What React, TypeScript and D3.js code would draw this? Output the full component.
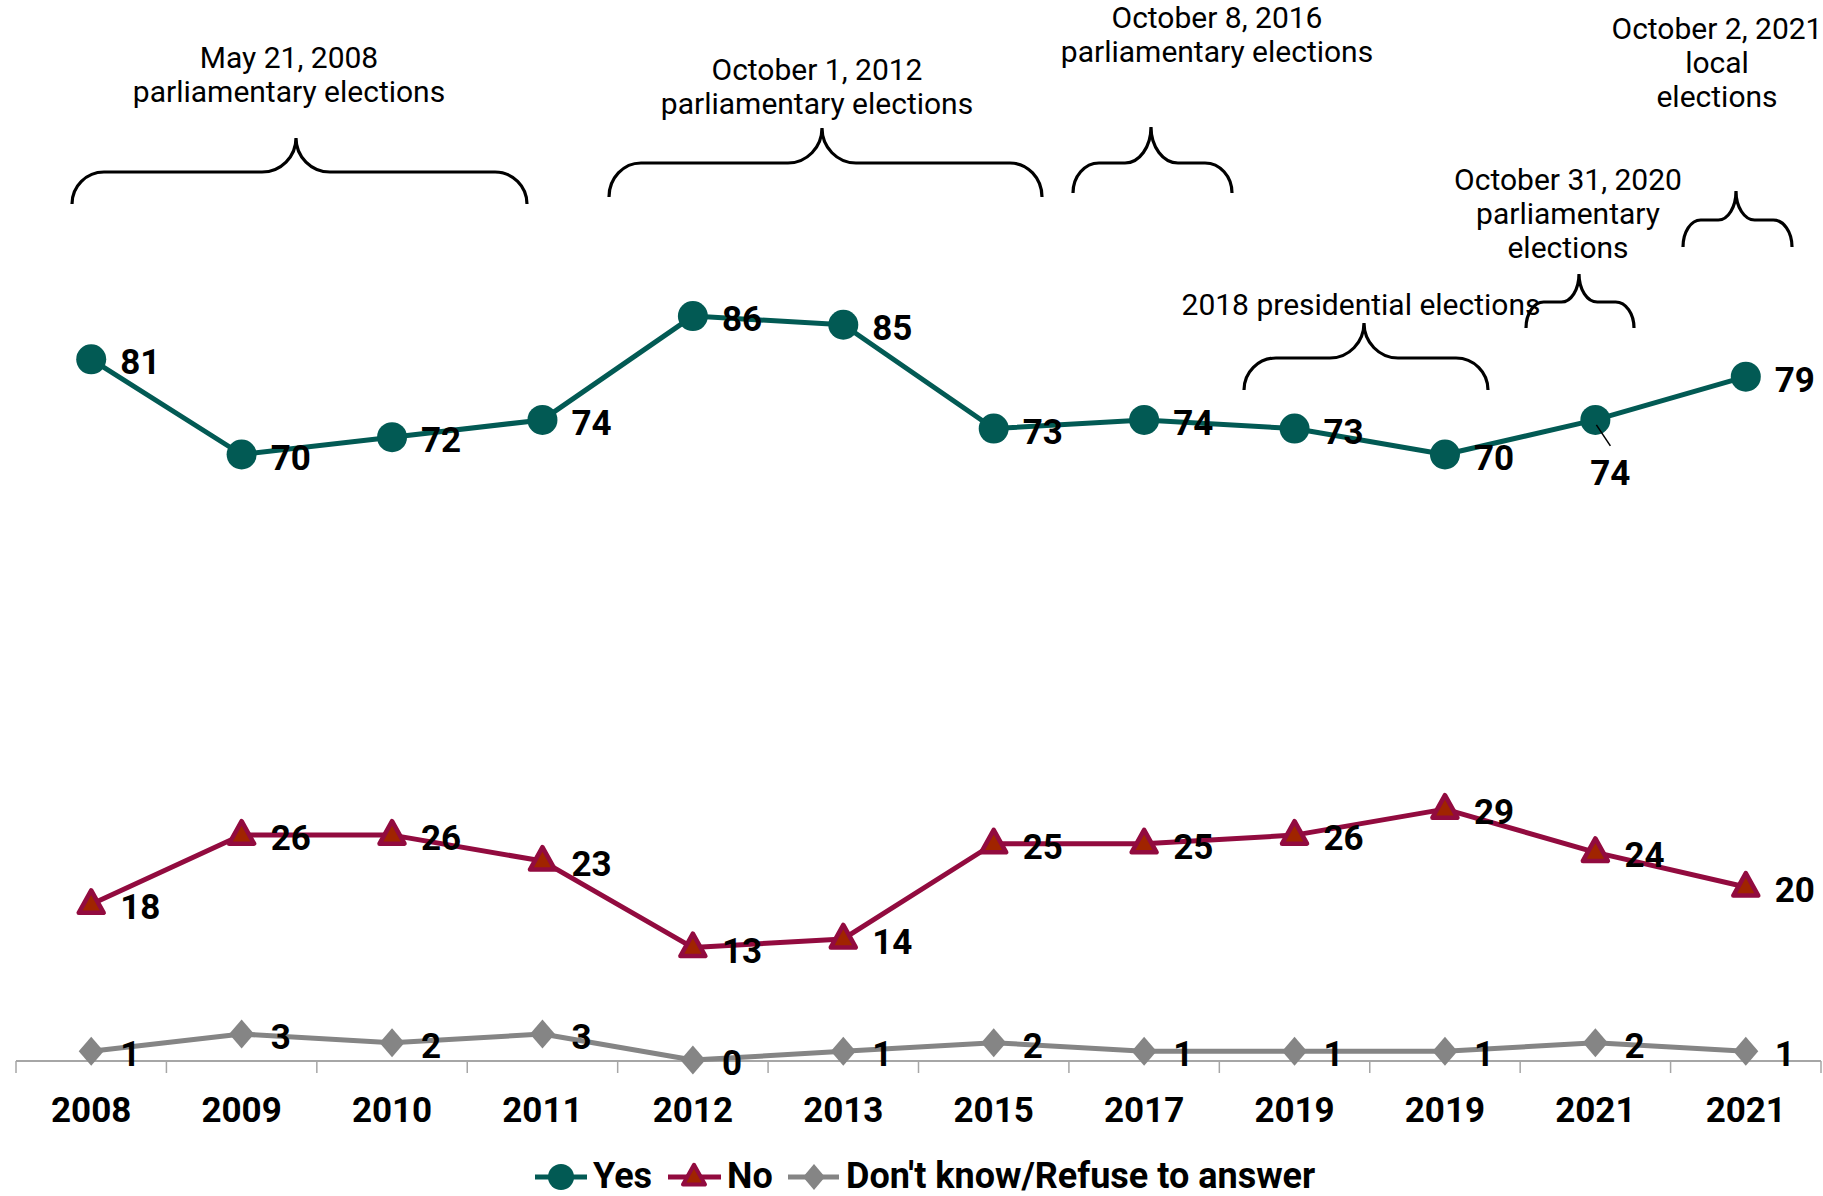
import React from "react";
import * as d3 from "d3";

const categories = ["2008", "2009", "2010", "2011", "2012", "2013", "2015", "2017", "2019", "2019", "2021", "2021"];
const yesValues = [81, 70, 72, 74, 86, 85, 73, 74, 73, 70, 74, 79];
const noValues = [18, 26, 26, 23, 13, 14, 25, 25, 26, 29, 24, 20];
const dkValues = [1, 3, 2, 3, 0, 1, 2, 1, 1, 1, 2, 1];
const seriesNames = ["Yes", "No", "Don't know/Refuse to answer"];

const annotationTexts = [
  ["May 21, 2008", "parliamentary elections"],
  ["October 1, 2012", "parliamentary elections"],
  ["October 8, 2016", "parliamentary elections"],
  ["2018 presidential elections"],
  ["October 31, 2020", "parliamentary", "elections"],
  ["October 2, 2021", "local", "elections"],
];

// layout for annotations (pixels)
const annotationLayout = [
  { tx: 289, ty: 68, L: 72, T: 296, R: 527, tip: 138, H: 172, B: 204 },
  { tx: 817, ty: 80, L: 609, T: 822, R: 1042, tip: 128, H: 163, B: 197 },
  { tx: 1217, ty: 28, L: 1073, T: 1151, R: 1232, tip: 127, H: 163, B: 193 },
  { tx: 1361, ty: 315, L: 1244, T: 1364, R: 1488, tip: 323, H: 358, B: 390 },
  { tx: 1568, ty: 190, L: 1526, T: 1579, R: 1634, tip: 274, H: 302, B: 328 },
  { tx: 1717, ty: 39, L: 1683, T: 1736, R: 1792, tip: 191, H: 220, B: 247 },
];

const W = 1823;
const H = 1196;
const FONT = "Roboto, 'Open Sans', 'DejaVu Sans', sans-serif";

const YES_COLOR = "#025A54";
const NO_COLOR = "#920B3F";
const NO_FILL = "#A02400";
const DK_COLOR = "#858585";

function bracePath(a: any) {
  const { L, T, R, tip, H: h, B } = a;
  const rx = Math.min(32, (T - L) / 3);
  const rx2 = Math.min(34, (T - L) / 3);
  const rxR = Math.min(32, (R - T) / 3);
  const rx2R = Math.min(34, (R - T) / 3);
  const ry = B - h;
  const ry2 = h - tip;
  return [
    `M${L},${B}`,
    `A${rx},${ry} 0 0 1 ${L + rx},${h}`,
    `L${T - rx2},${h}`,
    `A${rx2},${ry2} 0 0 0 ${T},${tip}`,
    `A${rx2R},${ry2} 0 0 0 ${T + rx2R},${h}`,
    `L${R - rxR},${h}`,
    `A${rxR},${ry} 0 0 1 ${R},${B}`,
  ].join(" ");
}

function triPath(cx: number, cy: number, s: number) {
  const h = s * 0.9;
  return `M${cx},${cy - h * 0.62} L${cx + s / 2},${cy + h * 0.38} L${cx - s / 2},${cy + h * 0.38} Z`;
}
function diaPath(cx: number, cy: number, w: number, h: number) {
  return `M${cx},${cy - h / 2} L${cx + w / 2},${cy} L${cx},${cy + h / 2} L${cx - w / 2},${cy} Z`;
}

export default function App() {
  const idx = categories.map((_, i) => String(i));
  const x = d3.scaleBand<string>().domain(idx).range([16, 1821]).paddingInner(0).paddingOuter(0);
  const y = d3.scaleLinear().domain([0, 100]).range([1060, 195]);
  const cx = (i: number) => (x(String(i)) as number) + x.bandwidth() / 2;

  const line = d3
    .line<number>()
    .x((_, i) => cx(i))
    .y((v) => y(v));

  const boundaries = idx.map((k) => x(k) as number).concat([x.range()[1]]);

  const labelFont = { fontFamily: FONT, fontWeight: 700, fontSize: 35, fill: "#000" } as const;

  const label = (v: number, i: number, key: string) => (
    <text key={key} x={cx(i) + 29} y={y(v) + 15} {...labelFont}>
      {v}
    </text>
  );

  return (
    <svg
      width={W}
      height={H}
      viewBox={`0 0 ${W} ${H}`}
      style={{ position: "absolute", left: 0, top: 0, display: "block", background: "#fff" }}
    >
      <rect x={0} y={0} width={W} height={H} fill="#fff" />

      {/* annotations */}
      {annotationLayout.map((a, k) => (
        <g key={"ann" + k}>
          {annotationTexts[k].map((t, j) => (
            <text
              key={j}
              x={a.tx}
              y={a.ty + j * 34}
              textAnchor="middle"
              fontFamily={FONT}
              fontSize={30}
              fontWeight={400}
              fill="#000"
            >
              {t}
            </text>
          ))}
          <path d={bracePath(a)} fill="none" stroke="#000" strokeWidth={3.2} />
        </g>
      ))}

      {/* axis */}
      <line x1={boundaries[0]} x2={boundaries[boundaries.length - 1]} y1={1061} y2={1061} stroke="#A6A6A6" strokeWidth={2} />
      {boundaries.map((b, i) => (
        <line key={"t" + i} x1={b} x2={b} y1={1061} y2={1073} stroke="#A6A6A6" strokeWidth={1.5} />
      ))}
      {categories.map((c, i) => (
        <text
          key={"c" + i}
          x={cx(i)}
          y={1122}
          textAnchor="middle"
          fontFamily={FONT}
          fontWeight={700}
          fontSize={35}
          fill="#000"
        >
          {c}
        </text>
      ))}

      {/* DK series */}
      <path d={line(dkValues) || ""} fill="none" stroke={DK_COLOR} strokeWidth={5} strokeLinejoin="round" />
      {dkValues.map((v, i) => (
        <path key={"dk" + i} d={diaPath(cx(i), y(v), 25, 29)} fill={DK_COLOR} />
      ))}

      {/* No series */}
      <path d={line(noValues) || ""} fill="none" stroke={NO_COLOR} strokeWidth={5} strokeLinejoin="round" />
      {noValues.map((v, i) => (
        <path
          key={"no" + i}
          d={triPath(cx(i), y(v), 25)}
          fill={NO_FILL}
          stroke={NO_COLOR}
          strokeWidth={4.5}
          strokeLinejoin="round"
        />
      ))}

      {/* Yes series */}
      <path d={line(yesValues) || ""} fill="none" stroke={YES_COLOR} strokeWidth={5} strokeLinejoin="round" />
      {yesValues.map((v, i) => (
        <circle key={"yes" + i} cx={cx(i)} cy={y(v)} r={15} fill={YES_COLOR} />
      ))}

      {/* labels */}
      {yesValues.map((v, i) =>
        i === 10 ? (
          <g key={"yl" + i}>
            <line x1={cx(i) + 1} y1={y(v) + 5} x2={cx(i) + 15} y2={y(v) + 26} stroke="#000" strokeWidth={1.5} />
            <text x={cx(i) + 15} y={y(v) + 65} textAnchor="middle" {...labelFont}>
              {v}
            </text>
          </g>
        ) : (
          label(v, i, "yl" + i)
        )
      )}
      {noValues.map((v, i) => label(v, i, "nl" + i))}
      {dkValues.map((v, i) => label(v, i, "dl" + i))}

      {/* legend */}
      <g>
        <line x1={535} x2={587} y1={1177} y2={1177} stroke={YES_COLOR} strokeWidth={5} />
        <circle cx={561} cy={1177} r={13} fill={YES_COLOR} />
        <text x={593} y={1188} fontFamily={FONT} fontWeight={700} fontSize={36} fill="#000">
          {seriesNames[0]}
        </text>
        <line x1={668} x2={721} y1={1177} y2={1177} stroke={NO_COLOR} strokeWidth={5} />
        <path d={triPath(694, 1177, 22)} fill={NO_FILL} stroke={NO_COLOR} strokeWidth={4} strokeLinejoin="round" />
        <text x={727} y={1188} fontFamily={FONT} fontWeight={700} fontSize={36} fill="#000">
          {seriesNames[1]}
        </text>
        <line x1={788} x2={839} y1={1177} y2={1177} stroke={DK_COLOR} strokeWidth={5} />
        <path d={diaPath(814, 1177, 22, 26)} fill={DK_COLOR} />
        <text x={846} y={1188} fontFamily={FONT} fontWeight={700} fontSize={36} fill="#000">
          {seriesNames[2]}
        </text>
      </g>
    </svg>
  );
}
